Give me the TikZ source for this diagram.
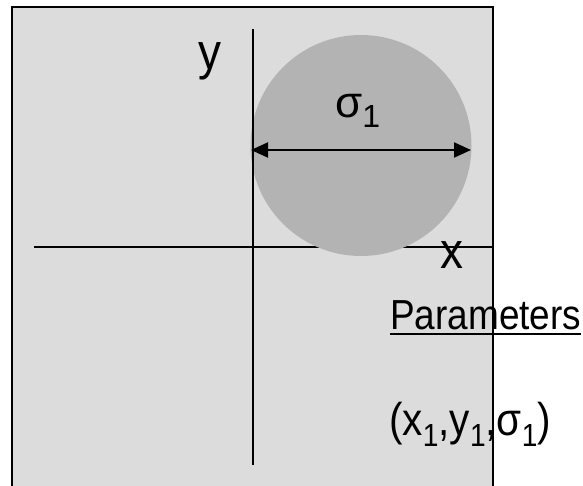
\documentclass[tikz,border=0pt]{standalone}
\usepackage{fontspec}
\setmainfont{Liberation Sans}
\newfontfamily\narrowsans[FakeStretch=0.88]{Liberation Sans}
\newfontfamily\labsans[FakeStretch=0.9]{Liberation Sans}
\usetikzlibrary{arrows.meta}
\definecolor{bgpanel}{HTML}{DCDCDC}
\definecolor{disc}{HTML}{B3B3B3}
\newcommand{\lowone}[2]{\raisebox{-#1pt}{\fontsize{#2}{#2}\selectfont 1}}
\tikzset{
  axis/.style={line width=2pt, black},
  biglabel/.style={inner sep=0pt, anchor=base, font=\labsans\fontsize{51}{60}\selectfont},
  txt/.style={inner sep=0pt, anchor=base west, font=\narrowsans\fontsize{42}{50}\selectfont},
}
\begin{document}
\begin{tikzpicture}[x=1pt,y=-1pt]
\useasboundingbox (0,0) rectangle (583,485);
\begin{scope}
\clip (0,0) rectangle (583,485);
\draw[line width=2.5pt, fill=bgpanel] (12,7) rectangle (493,520);
\end{scope}
\coordinate (hl) at (34,247);
\coordinate (hr) at (493,247);
\draw[axis] (hl) -- (hr);
\node[circle, fill=disc, minimum size=221pt, inner sep=0pt] (c) at (361,145.5) {};
\coordinate (vt) at (253,29);
\coordinate (vb) at (253,465);
\draw[axis] (vt) -- (vb);
\coordinate (al) at (251,150);
\coordinate (ar) at (471,150);
\draw[line width=2pt, {Triangle[length=17pt,width=15pt]}-{Triangle[length=17pt,width=15pt]}] (al) -- (ar);
\node[biglabel] (ylab) at (210,69) {y};
\node[biglabel] (xlab) at (452,268) {x};
\node[inner sep=0pt, anchor=base west, font=\fontsize{44}{50}\selectfont] (sig) at (335,117) {σ\lowone{10}{32}};
\node[txt] (par) at (390,329) {Parameters};
\draw[line width=2pt] ([yshift=-5pt]par.base west) -- ([yshift=-5pt]par.base east);
\node[txt, font=\narrowsans\fontsize{46}{52}\selectfont] (pp) at (389,435) {(x\lowone{11}{32},y\lowone{11}{32},σ\lowone{11}{32})};
\end{tikzpicture}
\end{document}
